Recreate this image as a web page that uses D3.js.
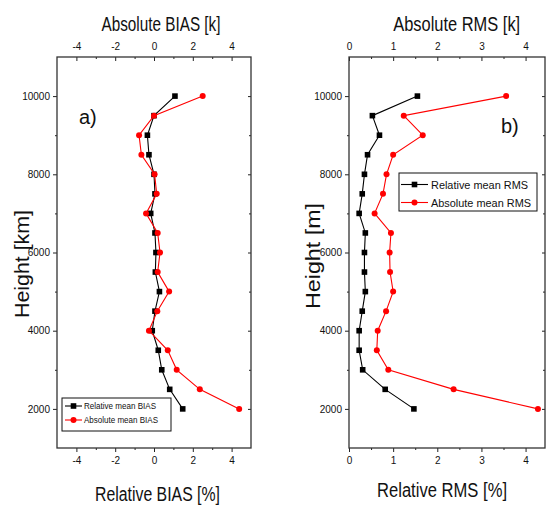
<!DOCTYPE html>
<html>
<head>
<meta charset="utf-8">
<script src="https://cdn.jsdelivr.net/npm/d3@7"></script>
<style>
  html, body { margin: 0; padding: 0; background: #fff; }
  svg { display: block; }
  text { fill: #111; }
</style>
</head>
<body>
<svg id="chart" width="547" height="505"></svg>
<script>
// Height levels (m) of the profiles
const heights = [2000, 2500, 3000, 3500, 4000, 4500, 5000, 5500, 6000, 6500, 7000, 7500, 8000, 8500, 9000, 9500, 10000];

// Panel a) mean BIAS
const biasRelative = [1.48, 0.81, 0.40, 0.22, -0.09, 0.05, 0.28, 0.07, 0.10, 0.05, -0.17, 0.05, 0.00, -0.26, -0.34, 0.00, 1.08];
const biasAbsolute = [4.39, 2.36, 1.17, 0.71, -0.26, 0.17, 0.78, 0.19, 0.31, 0.19, -0.41, 0.14, 0.03, -0.65, -0.77, 0.00, 2.51];

// Panel b) mean RMS
const rmsRelative = [1.47, 0.82, 0.31, 0.23, 0.23, 0.30, 0.37, 0.35, 0.35, 0.37, 0.23, 0.30, 0.35, 0.42, 0.69, 0.53, 1.55];
const rmsAbsolute = [4.28, 2.37, 0.89, 0.63, 0.65, 0.84, 1.00, 0.93, 0.92, 0.95, 0.58, 0.77, 0.85, 1.00, 1.67, 1.24, 3.56];

// Tick values
const heightTicks = [2000, 4000, 6000, 8000, 10000];
const heightMinor = [3000, 5000, 7000, 9000];
const biasTicks = [-4, -2, 0, 2, 4];
const biasMinor = [-3, -1, 1, 3];
const rmsTicks = [0, 1, 2, 3, 4];
const rmsMinor = [0.5, 1.5, 2.5, 3.5];

const svg = d3.select("#chart");
const NARROW = "'Liberation Sans Narrow', 'Arial Narrow', 'Liberation Sans', Arial, sans-serif";
const REGULAR = "'Liberation Sans', Arial, sans-serif";
const plain = d => String(d); // hyphen-minus for negative labels

const plotTop = 57, plotBottom = 448;
const y = d3.scaleLinear().domain([1000, 11000]).range([plotBottom, plotTop]);

function drawPanel(p) {
  const x = d3.scaleLinear().domain(p.xDomain).range([p.left, p.right]);
  const g = svg.append("g");

  const styleAxis = sel => {
    sel.select(".domain").remove();
    sel.selectAll("line").attr("stroke", "#222").attr("stroke-width", 1);
    sel.selectAll("text").attr("font-family", NARROW).attr("font-size", 10).attr("fill", "#222");
  };

  // bottom axis (outward ticks)
  g.append("g").attr("transform", `translate(0,${plotBottom})`)
    .call(d3.axisBottom(x).tickValues(p.ticks).tickSize(4).tickPadding(5).tickFormat(plain))
    .call(styleAxis);
  g.append("g").attr("transform", `translate(0,${plotBottom})`)
    .call(d3.axisBottom(x).tickValues(p.minor).tickSize(2).tickFormat(""))
    .call(styleAxis);

  // top axis (inward ticks)
  g.append("g").attr("transform", `translate(0,${plotTop})`)
    .call(d3.axisTop(x).tickValues(p.ticks).tickSize(-4).tickPadding(7).tickFormat(plain))
    .call(styleAxis);
  g.append("g").attr("transform", `translate(0,${plotTop})`)
    .call(d3.axisTop(x).tickValues(p.minor).tickSize(-2).tickFormat(""))
    .call(styleAxis);

  // left axis (outward ticks)
  g.append("g").attr("transform", `translate(${p.left},0)`)
    .call(d3.axisLeft(y).tickValues(heightTicks).tickSize(4).tickPadding(3).tickFormat(plain))
    .call(styleAxis);
  g.append("g").attr("transform", `translate(${p.left},0)`)
    .call(d3.axisLeft(y).tickValues(heightMinor).tickSize(2).tickFormat(""))
    .call(styleAxis);

  // right axis (inward ticks)
  g.append("g").attr("transform", `translate(${p.right},0)`)
    .call(d3.axisRight(y).tickValues(heightTicks).tickSize(-3).tickFormat(""))
    .call(styleAxis);
  g.append("g").attr("transform", `translate(${p.right},0)`)
    .call(d3.axisRight(y).tickValues(heightMinor).tickSize(-2).tickFormat(""))
    .call(styleAxis);

  // frame
  g.append("rect")
    .attr("x", p.left).attr("y", plotTop)
    .attr("width", p.right - p.left).attr("height", plotBottom - plotTop)
    .attr("fill", "none").attr("stroke", "#333").attr("stroke-width", 1.3);

  // series
  const line = vals => d3.line().x((d, i) => x(vals[i])).y(d => y(d))(heights);
  const series = [
    { vals: p.rel, color: "#000", shape: "square" },
    { vals: p.abs, color: "#ff0000", shape: "circle" }
  ];
  series.forEach(s => {
    g.append("path").attr("d", line(s.vals))
      .attr("fill", "none").attr("stroke", s.color).attr("stroke-width", 1.1);
    heights.forEach((h, i) => drawMarker(g, s.shape, x(s.vals[i]), y(h), s.color));
  });

  // axis titles
  g.append("text").text(p.topTitle)
    .attr("x", p.topTitleX).attr("y", 31).attr("text-anchor", "middle")
    .attr("font-family", NARROW).attr("font-size", 20)
    .attr("textLength", p.topTitleLen).attr("lengthAdjust", "spacingAndGlyphs");
  g.append("text").text(p.bottomTitle)
    .attr("x", p.bottomTitleX).attr("y", p.bottomTitleY).attr("text-anchor", "middle")
    .attr("font-family", NARROW).attr("font-size", 20)
    .attr("textLength", p.bottomTitleLen).attr("lengthAdjust", "spacingAndGlyphs");
  g.append("text").text(p.yTitle)
    .attr("transform", `translate(${p.yTitleX},${p.yTitleY}) rotate(-90)`)
    .attr("text-anchor", "middle")
    .attr("font-family", REGULAR).attr("font-size", 20)
    .attr("textLength", p.yTitleLen).attr("lengthAdjust", "spacingAndGlyphs");

  // panel label
  g.append("text").text(p.label)
    .attr("x", p.labelX).attr("y", p.labelY)
    .attr("font-family", NARROW).attr("font-size", 20);

  // legend
  const L = p.legend;
  const lg = g.append("g");
  lg.append("rect").attr("x", L.x).attr("y", L.y).attr("width", L.w).attr("height", L.h)
    .attr("fill", "#fff").attr("stroke", "#111").attr("stroke-width", 1);
  p.legendNames.forEach((name, i) => {
    const s = series[i];
    const ry = L.rows[i];
    lg.append("line").attr("x1", L.lineX1).attr("x2", L.lineX2).attr("y1", ry).attr("y2", ry)
      .attr("stroke", s.color).attr("stroke-width", 1.1);
    drawMarker(lg, s.shape, (L.lineX1 + L.lineX2) / 2, ry, s.color);
    lg.append("text").text(name)
      .attr("x", L.textX).attr("y", ry).attr("dy", "0.35em")
      .attr("font-family", NARROW).attr("font-size", L.fontSize)
      .attr("textLength", L.textLens[i]).attr("lengthAdjust", "spacingAndGlyphs");
  });
}

function drawMarker(g, shape, cx, cy, color) {
  if (shape === "square") {
    g.append("rect").attr("x", cx - 2.8).attr("y", cy - 2.8).attr("width", 5.6).attr("height", 5.6)
      .attr("fill", color);
  } else {
    g.append("circle").attr("cx", cx).attr("cy", cy).attr("r", 3).attr("fill", color);
  }
}

drawPanel({
  left: 57, right: 251, xDomain: [-5, 5],
  ticks: biasTicks, minor: biasMinor,
  rel: biasRelative, abs: biasAbsolute,
  topTitle: "Absolute BIAS [k]", topTitleX: 161, topTitleLen: 119,
  bottomTitle: "Relative BIAS [%]", bottomTitleX: 157.5, bottomTitleY: 501, bottomTitleLen: 125,
  yTitle: "Height [km]", yTitleX: 29, yTitleY: 264, yTitleLen: 108,
  label: "a)", labelX: 79, labelY: 124,
  legendNames: ["Relative mean BIAS", "Absolute mean BIAS"],
  legend: { x: 62, y: 398, w: 109, h: 33, rows: [406, 420], lineX1: 65, lineX2: 82, textX: 84,
            fontSize: 9, textLens: [72, 74] }
});

drawPanel({
  left: 349, right: 545, xDomain: [0, 4.44],
  ticks: rmsTicks, minor: rmsMinor,
  rel: rmsRelative, abs: rmsAbsolute,
  topTitle: "Absolute RMS [k]", topTitleX: 456.7, topTitleLen: 127,
  bottomTitle: "Relative RMS [%]", bottomTitleX: 442, bottomTitleY: 497, bottomTitleLen: 130,
  yTitle: "Height [m]", yTitleX: 320, yTitleY: 256, yTitleLen: 106,
  label: "b)", labelX: 501, labelY: 133,
  legendNames: ["Relative mean RMS", "Absolute mean RMS"],
  legend: { x: 399, y: 173, w: 138, h: 38, rows: [184.5, 202.5], lineX1: 401, lineX2: 428, textX: 431,
            fontSize: 11.5, textLens: [97, 100] }
});
</script>
</body>
</html>
